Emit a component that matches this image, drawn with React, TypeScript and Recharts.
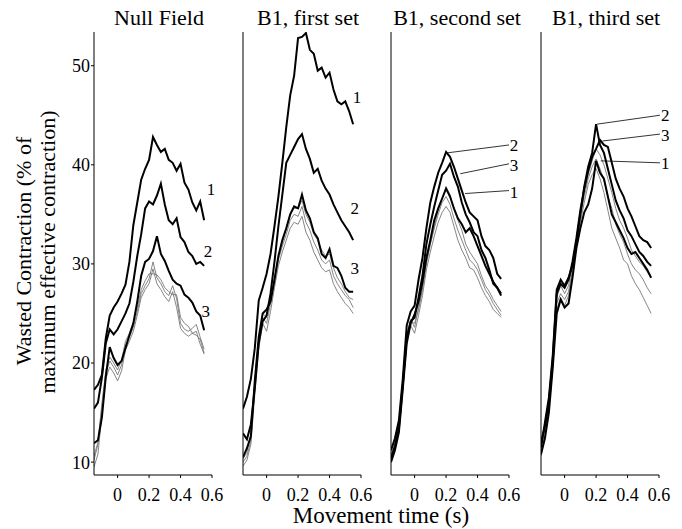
import { LineChart, Line, XAxis, YAxis, ReferenceLine, ReferenceDot } from "recharts";

// movement time (s), shared by every trace
const time = [
  -0.15, -0.125, -0.1, -0.075, -0.05, -0.025, 0, 0.025, 0.05, 0.075, 0.1, 0.125, 0.15, 0.175, 0.2,
  0.225, 0.25, 0.275, 0.3, 0.325, 0.35, 0.375, 0.4, 0.425, 0.45, 0.475, 0.5, 0.525, 0.55
];

const xTicks = [0, 0.2, 0.4, 0.6];
const yTicks = [10, 20, 30, 40, 50];

// Null Field
const null1 = [17.3, 17.8, 18.8, 22.5, 24.8, 25.6, 26.2, 27.0, 27.9, 30.2, 33.9, 36.2, 38.5, 39.6, 40.5, 42.8, 42.0, 41.3, 41.6, 40.5, 40.2, 39.4, 40.1, 38.2, 37.5, 36.2, 35.4, 36.3, 34.4];
const null2 = [15.4, 16.0, 18.5, 22.0, 23.4, 22.9, 23.4, 24.2, 25.0, 26.0, 28.2, 30.8, 33.0, 35.6, 36.3, 36.0, 36.9, 38.1, 36.0, 34.4, 34.0, 34.6, 32.7, 32.2, 31.2, 30.8, 30.0, 30.2, 29.8];
const null3 = [11.9, 12.2, 14.5, 18.6, 21.6, 20.5, 19.8, 20.2, 21.5, 22.8, 24.0, 26.2, 28.8, 30.2, 30.5, 31.3, 32.8, 31.0, 30.3, 29.3, 28.4, 28.0, 27.8, 26.9, 26.6, 26.1, 25.2, 24.8, 23.3];
const nullThinA = [10.2, 11.8, 15.5, 19.0, 20.2, 19.6, 18.8, 19.8, 21.8, 22.6, 23.6, 25.2, 27.0, 27.8, 28.5, 30.2, 28.6, 28.0, 27.2, 26.8, 27.8, 26.5, 24.0, 23.4, 23.2, 23.5, 23.9, 22.6, 21.4];
const nullThinB = [9.5, 10.8, 14.8, 18.4, 19.6, 19.0, 18.2, 19.2, 21.3, 22.2, 23.2, 24.8, 26.6, 27.4, 28.0, 29.5, 28.0, 27.4, 26.7, 26.2, 27.2, 25.6, 23.5, 23.0, 22.7, 23.0, 23.2, 21.9, 20.9];
const nullThinC = [10.6, 12.0, 15.9, 19.3, 20.6, 20.0, 19.3, 20.3, 22.2, 23.0, 24.1, 25.6, 27.4, 28.3, 29.0, 29.0, 28.9, 28.4, 27.6, 27.2, 26.9, 26.9, 24.6, 24.0, 23.7, 23.0, 22.8, 22.4, 21.0];

// B1, first set
const first1 = [15.4, 16.6, 18.4, 21.5, 26.3, 27.6, 29.0, 31.0, 33.8, 36.8, 40.2, 43.8, 47.0, 49.0, 52.8, 52.9, 53.3, 51.6, 51.2, 49.5, 49.8, 48.8, 49.3, 47.6, 46.4, 46.1, 46.4, 45.4, 44.1];
const first2 = [12.9, 12.3, 13.8, 17.5, 22.0, 24.2, 24.8, 27.0, 30.2, 33.8, 37.0, 40.2, 41.0, 41.8, 42.6, 43.1, 41.6, 40.6, 39.2, 39.6, 38.4, 37.6, 37.0, 36.0, 35.2, 34.4, 33.8, 33.2, 32.4];
const first3 = [10.5, 11.4, 12.6, 18.2, 22.6, 25.0, 25.4, 26.2, 28.4, 30.8, 32.4, 33.6, 35.0, 35.8, 35.6, 37.0, 35.4, 34.6, 33.2, 32.6, 31.0, 30.6, 31.5, 29.8, 29.6, 28.8, 27.6, 27.2, 27.2];
const firstThinA = [10.0, 10.6, 12.2, 17.4, 22.0, 24.6, 24.0, 26.0, 28.2, 30.4, 31.8, 33.0, 34.4, 35.0, 34.8, 35.8, 34.2, 33.4, 32.2, 31.4, 30.4, 30.0, 30.4, 28.8, 28.0, 27.4, 26.8, 26.4, 25.6];
const firstThinB = [9.6, 10.2, 11.8, 16.8, 21.4, 24.0, 23.2, 25.2, 27.6, 29.8, 31.2, 32.4, 33.6, 34.2, 34.0, 34.8, 33.2, 32.4, 31.2, 30.4, 29.6, 29.2, 29.4, 28.0, 27.2, 26.6, 26.0, 25.6, 25.0];
const firstThinC = [10.3, 11.0, 12.8, 17.9, 22.4, 25.0, 24.6, 26.4, 28.6, 30.8, 32.2, 33.6, 35.0, 35.6, 35.6, 36.4, 35.0, 34.2, 33.0, 32.4, 31.4, 30.8, 31.0, 29.6, 28.6, 28.0, 27.2, 26.6, 26.4];

// B1, second set
const second1 = [10.0, 11.2, 13.0, 17.4, 22.0, 24.0, 24.9, 26.2, 28.2, 30.6, 32.4, 34.4, 35.6, 36.6, 37.6, 36.8, 35.6, 34.6, 34.0, 33.2, 33.6, 32.8, 31.8, 30.8, 29.8, 29.0, 28.2, 27.6, 27.0];
const second2 = [11.2, 12.4, 14.2, 18.4, 23.8, 25.2, 25.8, 28.4, 30.6, 33.6, 36.2, 37.8, 39.2, 40.2, 41.3, 40.8, 39.8, 38.6, 37.4, 36.2, 35.2, 34.8, 34.4, 32.8, 31.8, 31.4, 30.6, 29.0, 28.5];
const second3 = [10.4, 11.6, 13.4, 17.8, 22.6, 24.2, 24.6, 26.6, 28.8, 32.0, 34.0, 35.8, 37.4, 39.0, 39.4, 40.1, 38.8, 37.8, 36.2, 35.0, 34.2, 33.2, 32.8, 31.4, 30.6, 29.4, 28.0, 27.6, 26.8];
const secondThinA = [10.8, 12.0, 13.8, 18.0, 22.8, 24.4, 23.6, 25.6, 27.6, 30.2, 32.0, 33.6, 35.0, 36.2, 36.8, 36.0, 34.6, 33.4, 32.4, 31.4, 30.4, 30.0, 29.4, 28.4, 27.4, 26.8, 26.0, 25.4, 24.8];
const secondThinB = [10.2, 11.4, 13.2, 17.4, 22.2, 23.8, 23.0, 24.8, 26.8, 29.4, 31.2, 32.8, 34.2, 35.2, 35.8, 35.2, 33.8, 32.4, 31.4, 30.6, 29.6, 29.4, 28.6, 27.6, 26.8, 26.2, 25.4, 25.0, 24.6];
const secondThinC = [10.6, 11.8, 13.6, 17.8, 22.6, 24.2, 24.0, 25.4, 27.4, 30.0, 32.0, 33.8, 35.4, 36.6, 37.8, 37.0, 35.6, 34.4, 33.4, 32.0, 31.2, 30.6, 30.0, 28.8, 27.8, 27.2, 26.4, 25.8, 25.2];

// B1, third set
const third1 = [10.8, 12.4, 15.0, 19.6, 25.0, 26.4, 25.6, 26.0, 28.6, 31.6, 33.6, 35.2, 36.0, 37.6, 40.4, 39.2, 38.6, 36.8, 35.0, 34.2, 33.4, 32.6, 31.6, 31.0, 31.2, 30.6, 30.0, 29.4, 28.6];
const third2 = [11.5, 14.0, 16.5, 20.8, 27.4, 28.4, 27.8, 28.6, 29.8, 32.2, 35.0, 37.8, 39.8, 41.2, 44.1, 42.0, 41.2, 39.6, 38.0, 36.4, 35.4, 34.6, 33.4, 32.8, 32.0, 31.2, 30.8, 30.2, 29.8];
const third3 = [12.0, 13.6, 16.0, 20.4, 27.0, 28.0, 27.6, 28.4, 30.2, 32.6, 35.4, 37.6, 39.4, 40.8, 41.6, 42.5, 42.0, 41.8, 40.2, 38.6, 37.6, 36.8, 35.6, 34.8, 33.8, 32.8, 32.4, 32.2, 31.6];
const thirdThinA = [11.2, 13.2, 15.6, 20.0, 26.0, 27.0, 26.4, 27.2, 29.4, 32.0, 34.6, 36.8, 38.6, 39.8, 40.6, 39.6, 38.4, 36.8, 35.6, 34.0, 33.0, 32.2, 31.0, 30.0, 29.4, 29.0, 28.4, 27.6, 27.0];
const thirdThinB = [11.8, 13.8, 16.2, 20.6, 26.6, 27.8, 27.0, 27.8, 29.8, 32.4, 35.0, 37.2, 39.0, 40.4, 41.6, 41.0, 40.0, 38.6, 37.2, 35.6, 34.4, 33.6, 32.6, 31.4, 30.8, 30.2, 29.8, 29.2, 28.6];
const thirdThinC = [10.6, 12.8, 15.2, 19.6, 25.4, 26.6, 25.8, 26.8, 29.0, 31.8, 34.2, 36.2, 38.0, 39.0, 39.6, 38.6, 37.2, 35.4, 33.6, 32.6, 31.6, 30.4, 30.0, 28.8, 28.0, 27.4, 26.6, 25.8, 25.0];

// trace labels, in data units
const nullLabels = [
  { text: "1", x: 0.594, y: 37.6 },
  { text: "2", x: 0.574, y: 31.3 },
  { text: "3", x: 0.561, y: 25.3 }
];
const firstLabels = [
  { text: "1", x: 0.574, y: 46.8 },
  { text: "2", x: 0.56, y: 35.6 },
  { text: "3", x: 0.56, y: 29.6 }
];
const secondLabels = [
  { text: "2", x: 0.632, y: 42.0 },
  { text: "3", x: 0.632, y: 40.0 },
  { text: "1", x: 0.632, y: 37.3 }
];
const thirdLabels = [
  { text: "2", x: 0.64, y: 45.0 },
  { text: "3", x: 0.64, y: 43.0 },
  { text: "1", x: 0.64, y: 40.2 }
];
// leader lines [x1, y1, x2, y2]
const secondLeaders = [
  [0.205, 41.2, 0.6, 42.0],
  [0.29, 39.1, 0.6, 40.1],
  [0.32, 37.1, 0.6, 37.4]
];
const thirdLeaders = [
  [0.206, 44.1, 0.606, 45.0],
  [0.24, 42.4, 0.606, 43.1],
  [0.23, 40.4, 0.606, 40.2]
];

const SERIF = "'Liberation Serif', 'Times New Roman', Times, Tinos, 'DejaVu Serif', serif";
const PLOT_W = 118;

type Anno = { text: string; x: number; y: number };

type PanelProps = {
  left: number;
  first?: boolean;
  thick: number[][];
  thin: number[][];
  labels: Anno[];
  leaders?: number[][];
};

const Panel = ({ left, first, thick, thin, labels, leaders = [] }: PanelProps) => {
  const data = time.map((t, i) => {
    const row: Record<string, number> = { t };
    thick.forEach((s, k) => (row[`k${k}`] = s[i]));
    thin.forEach((s, k) => (row[`g${k}`] = s[i]));
    return row;
  });
  const yw = first ? 40 : 2;
  const ml = first ? 0 : 8;
  const tickStyle = { fontSize: 18, fill: "#000", fontFamily: SERIF };

  return (
    <div style={{ position: "absolute", left, top: 0 }}>
      <LineChart
        width={ml + yw + PLOT_W + 40}
        height={529}
        data={data}
        margin={{ top: 32, right: 40, bottom: 24, left: ml }}
      >
        <XAxis
          type="number"
          dataKey="t"
          domain={[-0.15, 0.6]}
          ticks={xTicks}
          allowDataOverflow
          height={30}
          tickSize={3}
          tickMargin={10}
          stroke="#000"
          tick={tickStyle}
          tickFormatter={(v: number) => (v === 0 ? "0" : String(v))}
        />
        <YAxis
          type="number"
          domain={[8.7, 53.4]}
          ticks={yTicks}
          allowDataOverflow
          width={yw}
          tickSize={3}
          tickMargin={1}
          stroke="#000"
          tick={first ? tickStyle : false}
        />
        {thin.map((_, k) => (
          <Line
            key={`g${k}`}
            dataKey={`g${k}`}
            stroke="#777"
            strokeWidth={0.9}
            dot={false}
            isAnimationActive={false}
          />
        ))}
        {thick.map((_, k) => (
          <Line
            key={`k${k}`}
            dataKey={`k${k}`}
            stroke="#000"
            strokeWidth={2}
            dot={false}
            isAnimationActive={false}
          />
        ))}
        {leaders.map(([x1, y1, x2, y2], k) => (
          <ReferenceLine
            key={`l${k}`}
            segment={[{ x: x1, y: y1 }, { x: x2, y: y2 }]}
            stroke="#000"
            strokeWidth={0.8}
            ifOverflow="visible"
          />
        ))}
        {labels.map((a) => (
          <ReferenceDot
            key={a.text}
            x={a.x}
            y={a.y}
            r={0}
            stroke="none"
            ifOverflow="visible"
            label={{ value: a.text, position: "center", fontSize: 17, fill: "#000", fontFamily: SERIF }}
          />
        ))}
      </LineChart>
    </div>
  );
};

const titles = [
  { text: "Null Field", x: 159 },
  { text: "B1, first set", x: 308 },
  { text: "B1, second set", x: 457 },
  { text: "B1, third set", x: 606 }
];

export default function App() {
  return (
    <div
      style={{
        position: "absolute",
        left: 0,
        top: 0,
        width: 682,
        height: 529,
        background: "#fff",
        fontFamily: SERIF,
        color: "#000"
      }}
    >
      <style>{`.recharts-surface{overflow:visible} svg text{font-family:${SERIF}}`}</style>
      <Panel left={54} first thick={[null1, null2, null3]} thin={[nullThinA, nullThinB, nullThinC]} labels={nullLabels} />
      <Panel left={233} thick={[first1, first2, first3]} thin={[firstThinA, firstThinB, firstThinC]} labels={firstLabels} />
      <Panel
        left={381}
        thick={[second1, second2, second3]}
        thin={[secondThinA, secondThinB, secondThinC]}
        labels={secondLabels}
        leaders={secondLeaders}
      />
      <Panel
        left={531}
        thick={[third1, third2, third3]}
        thin={[thirdThinA, thirdThinB, thirdThinC]}
        labels={thirdLabels}
        leaders={thirdLeaders}
      />
      <svg
        width={682}
        height={529}
        fontFamily={SERIF}
        style={{ position: "absolute", left: 0, top: 0, pointerEvents: "none" }}
      >
        {titles.map((t) => (
          <text key={t.text} x={t.x} y={25} textAnchor="middle" fontSize={22} fill="#000">
            {t.text}
          </text>
        ))}
        <text x={31} y={251} transform="rotate(-90 31 251)" textAnchor="middle" fontSize={22} fill="#000">
          Wasted Contraction (% of
        </text>
        <text x={55} y={252} transform="rotate(-90 55 252)" textAnchor="middle" fontSize={22} fill="#000">
          maximum effective contraction)
        </text>
        <text x={381} y={523} textAnchor="middle" fontSize={23} fill="#000">
          Movement time (s)
        </text>
      </svg>
    </div>
  );
}
